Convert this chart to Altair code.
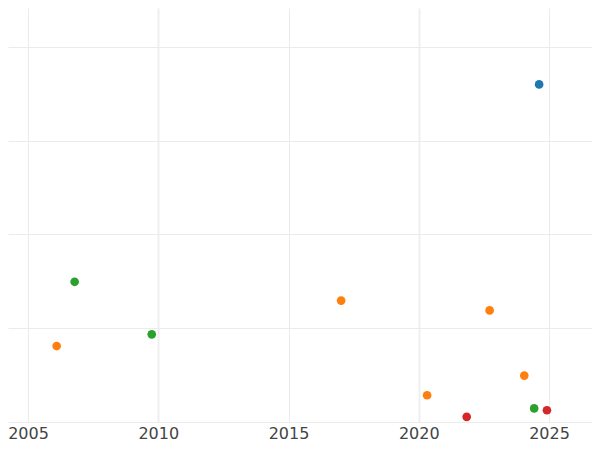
import altair as alt
import pandas as pd

years = [2024.62, 2006.79, 2009.75, 2006.10, 2017.02, 2022.72, 2024.05, 2020.32, 2024.43, 2024.92, 2021.84]
values = [72.0, 29.9, 18.7, 16.2, 25.9, 23.8, 9.9, 5.7, 2.9, 2.5, 1.1]
groups = ["A", "C", "C", "B", "B", "B", "B", "B", "C", "D", "D"]
group_order = ["A", "B", "C", "D"]
x_ticks = [2005, 2010, 2015, 2020, 2025]
y_ticks = [0, 20, 40, 60, 80]

df = pd.DataFrame({"year": years, "value": values, "group": groups})

chart = alt.Chart(df).mark_circle(size=75, opacity=1).encode(
    x=alt.X("year:Q",
            scale=alt.Scale(domain=[2004.232, 2026.65], nice=False, zero=False),
            axis=alt.Axis(values=x_ticks, format="d", title=None, ticks=False, domain=False,
                          labelFontSize=16, labelFont="DejaVu Sans", labelColor="#444",
                          labelPadding=3,
                          gridColor=alt.ExprRef("datum.value % 10 === 0 ? '#efefef' : '#ebebeb'"),
                          gridWidth=alt.ExprRef("datum.value % 10 === 0 ? 2 : 1"))),
    y=alt.Y("value:Q",
            scale=alt.Scale(domain=[0, 88.3], nice=False),
            axis=alt.Axis(values=y_ticks, labels=False, ticks=False, domain=False, title=None,
                          gridColor="#ebebeb")),
    color=alt.Color("group:N", scale=alt.Scale(domain=group_order, scheme="category10"), legend=None),
).properties(
    width=584, height=414,
    autosize=alt.AutoSizeParams(type="none"),
    padding={"left": 0, "top": 0, "right": 0, "bottom": 20},
).configure_view(stroke=None)

chart.save("out.html", embed_options={"renderer": "svg", "actions": False})
